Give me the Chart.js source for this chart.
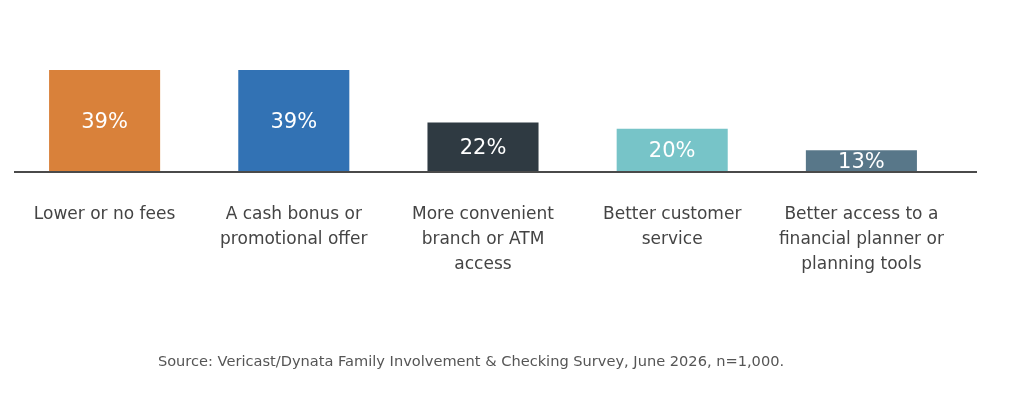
<!DOCTYPE html>
<html>
<head>
<meta charset="utf-8">
<script src="https://cdn.jsdelivr.net/npm/chart.js@4.4.1/dist/chart.umd.min.js"></script>
<style>
  body { margin: 0; background: #fff; }
  #wrap { position: relative; width: 1024px; height: 412px; }
  #source {
    position: absolute; left: 0; width: 942px; top: 352px;
    text-align: center; font-family: "DejaVu Sans", sans-serif;
    font-size: 14.6px; color: #555;
  }
</style>
</head>
<body>
<div id="wrap">
  <canvas id="myChart" width="1024" height="412"></canvas>
  <div id="source">Source: Vericast/Dynata Family Involvement &amp; Checking Survey, June 2026, n=1,000.</div>
</div>
<script>
// chart data
const categories = [
    ['Lower or no fees'],
    ['A cash bonus or', 'promotional offer'],
    ['More convenient', 'branch or ATM', 'access'],
    ['Better customer', 'service'],
    ['Better access to a', 'financial planner or', 'planning tools']
];
const shares = [39, 39, 22, 20, 13];
const barColors = ['#D9813A', '#3272B4', '#2F3A42', '#77C4C8', '#587789'];

const yMin = 6;
const yMax = 39;

// baseline under the bars, a bit longer than the plot on the right
const baselinePlugin = {
    id: 'baseline',
    afterDatasetsDraw(chart) {
        const ctx = chart.ctx;
        const y = chart.chartArea.bottom;
        ctx.save();
        ctx.strokeStyle = '#4a4a4a';
        ctx.lineWidth = 2;
        ctx.beginPath();
        ctx.moveTo(chart.chartArea.left + 4, y);
        ctx.lineTo(chart.chartArea.right + 21, y);
        ctx.stroke();
        ctx.restore();
    }
};

// percent labels in the middle of each visible bar
const valueLabels = {
    id: 'valueLabels',
    afterDatasetsDraw(chart) {
        const ctx = chart.ctx;
        const meta = chart.getDatasetMeta(0);
        const bottom = chart.chartArea.bottom;
        ctx.save();
        ctx.fillStyle = '#ffffff';
        ctx.font = '21px "DejaVu Sans", sans-serif';
        ctx.textAlign = 'center';
        ctx.textBaseline = 'alphabetic';
        meta.data.forEach((bar, i) => {
            const mid = (bar.y + bottom) / 2;
            ctx.fillText(shares[i] + '%', bar.x, mid + 6.5);
        });
        ctx.restore();
    }
};

new Chart(document.getElementById('myChart').getContext('2d'), {
    type: 'bar',
    data: {
        labels: categories,
        datasets: [{
            data: shares,
            backgroundColor: barColors,
            borderWidth: 0,
            barPercentage: 0.587,
            categoryPercentage: 1
        }]
    },
    options: {
        responsive: false,
        animation: false,
        layout: { padding: { top: 70, left: 10, right: 68, bottom: 0 } },
        plugins: {
            legend: { display: false },
            tooltip: { enabled: false }
        },
        scales: {
            x: {
                grid: { display: false },
                border: { display: false },
                ticks: {
                    color: '#444',
                    font: { family: '"DejaVu Sans", sans-serif', size: 17, lineHeight: 1.47 },
                    padding: 22,
                    maxRotation: 0,
                    autoSkip: false
                },
                afterFit(scale) { scale.height = 240; }
            },
            y: {
                display: false,
                min: yMin,
                max: yMax
            }
        }
    },
    plugins: [baselinePlugin, valueLabels]
});
</script>
</body>
</html>
